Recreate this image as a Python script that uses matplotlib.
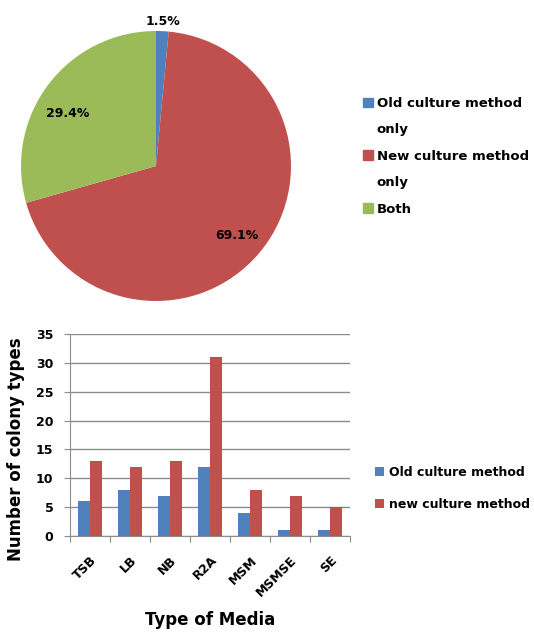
"""
Pie of colony detection by culture method + bar chart of colony types per medium.
"""
import numpy as np
import matplotlib
matplotlib.use("Agg")
import matplotlib.pyplot as plt
from matplotlib.patches import Patch

# Pie data
pie_labels = ["Old culture method\nonly", "New culture method\nonly", "Both"]
pie_values = [1.5, 69.1, 29.4]
pie_colors = ["#4F81BD", "#C0504D", "#9BBB59"]

# Bar data
media = ["TSB", "LB", "NB", "R2A", "MSM", "MSMSE", "SE"]
old_method = [6, 8, 7, 12, 4, 1, 1]
new_method = [13, 12, 13, 31, 8, 7, 5]
bar_series = ["Old culture method", "new culture method"]
bar_colors = ["#4F81BD", "#C0504D"]

W, H = 534, 634
fig = plt.figure(figsize=(W / 100, H / 100), dpi=100)
plt.rcParams["font.family"] = ["DejaVu Sans"]

# ---- pie ----
cx, cy, r = 156, 166, 135
ax1 = fig.add_axes([(cx - r) / W, (H - cy - r) / H, 2 * r / W, 2 * r / H])
wedges, _ = ax1.pie(pie_values, colors=pie_colors, startangle=90, counterclock=False,
                    radius=1.0, wedgeprops=dict(linewidth=0))
ax1.set_xlim(-1, 1)
ax1.set_ylim(-1, 1)
ax1.set_aspect("equal")
ax1.axis("off")

# label placement: (distance from centre, angle tweak in degrees)
label_place = [(1.07, 0), (0.79, -1), (0.76, 6)]
for w, v, (d, da) in zip(wedges, pie_values, label_place):
    ang = np.deg2rad((w.theta1 + w.theta2) / 2 + da)
    ax1.text(d * np.cos(ang), d * np.sin(ang), f"{v:.1f}%", ha="center", va="center",
             fontsize=9, fontweight="bold", clip_on=False)

# legend: wrapped labels split into rows so the swatch sits on the first line
leg_handles, leg_texts = [], []
for lab, c in zip(pie_labels, pie_colors):
    for i, line in enumerate(lab.split("\n")):
        leg_handles.append(Patch(color=c) if i == 0 else Patch(alpha=0))
        leg_texts.append(line)
fig.legend(leg_handles, leg_texts, loc="upper left",
           bbox_to_anchor=(363 / W, 1 - 97 / H), frameon=False,
           prop=dict(weight="bold", size=9.5), handlelength=0.75,
           handleheight=0.75, handletextpad=0.3, labelspacing=1.02,
           borderaxespad=0, borderpad=0)

# ---- bars ----
ax2 = fig.add_axes([70 / W, (H - 536) / H, 280 / W, 202 / H])
x = np.arange(len(media))
bw = 0.3
ax2.bar(x - bw / 2, old_method, bw, color=bar_colors[0], label=bar_series[0], zorder=3)
ax2.bar(x + bw / 2, new_method, bw, color=bar_colors[1], label=bar_series[1], zorder=3)
ax2.set_xlim(-0.5, len(media) - 0.5)
ax2.set_ylim(0, 35)
ax2.set_yticks(np.arange(0, 36, 5))
ax2.yaxis.grid(True, color="#8c8c8c", linewidth=1, zorder=0)
ax2.set_axisbelow(True)
for s in ["top", "right"]:
    ax2.spines[s].set_visible(False)
for s in ["left", "bottom"]:
    ax2.spines[s].set_color("#8c8c8c")
# major ticks at category boundaries, labels on minor ticks (nudged right like the original)
ax2.set_xticks(np.arange(-0.5, len(media), 1))
ax2.set_xticklabels([])
ax2.set_xticks(x + 0.12, minor=True)
ax2.set_xticklabels(media, minor=True, rotation=45, ha="right", va="center",
                    rotation_mode="anchor", fontsize=9, fontweight="bold")
ax2.tick_params(axis="x", which="minor", length=0, pad=16)
ax2.tick_params(axis="x", which="major", length=4, color="#8c8c8c")
ax2.tick_params(axis="y", length=4, color="#8c8c8c", labelsize=9, pad=8)
for t in ax2.get_yticklabels():
    t.set_fontweight("bold")
ax2.set_ylabel("Number of colony types", fontsize=12, fontweight="bold")
ax2.yaxis.set_label_coords(-0.16, 0.43)
ax2.set_xlabel("Type of Media", fontsize=12, fontweight="bold")
ax2.xaxis.set_label_coords(0.5, -0.37)

fig.legend(*ax2.get_legend_handles_labels(), loc="upper left",
           bbox_to_anchor=(375 / W, 1 - 466 / H), frameon=False,
           prop=dict(weight="bold", size=9.0), handlelength=0.75, handleheight=0.75,
           handletextpad=0.35, labelspacing=1.5, borderaxespad=0, borderpad=0)

fig.savefig("out.png", dpi=100)
